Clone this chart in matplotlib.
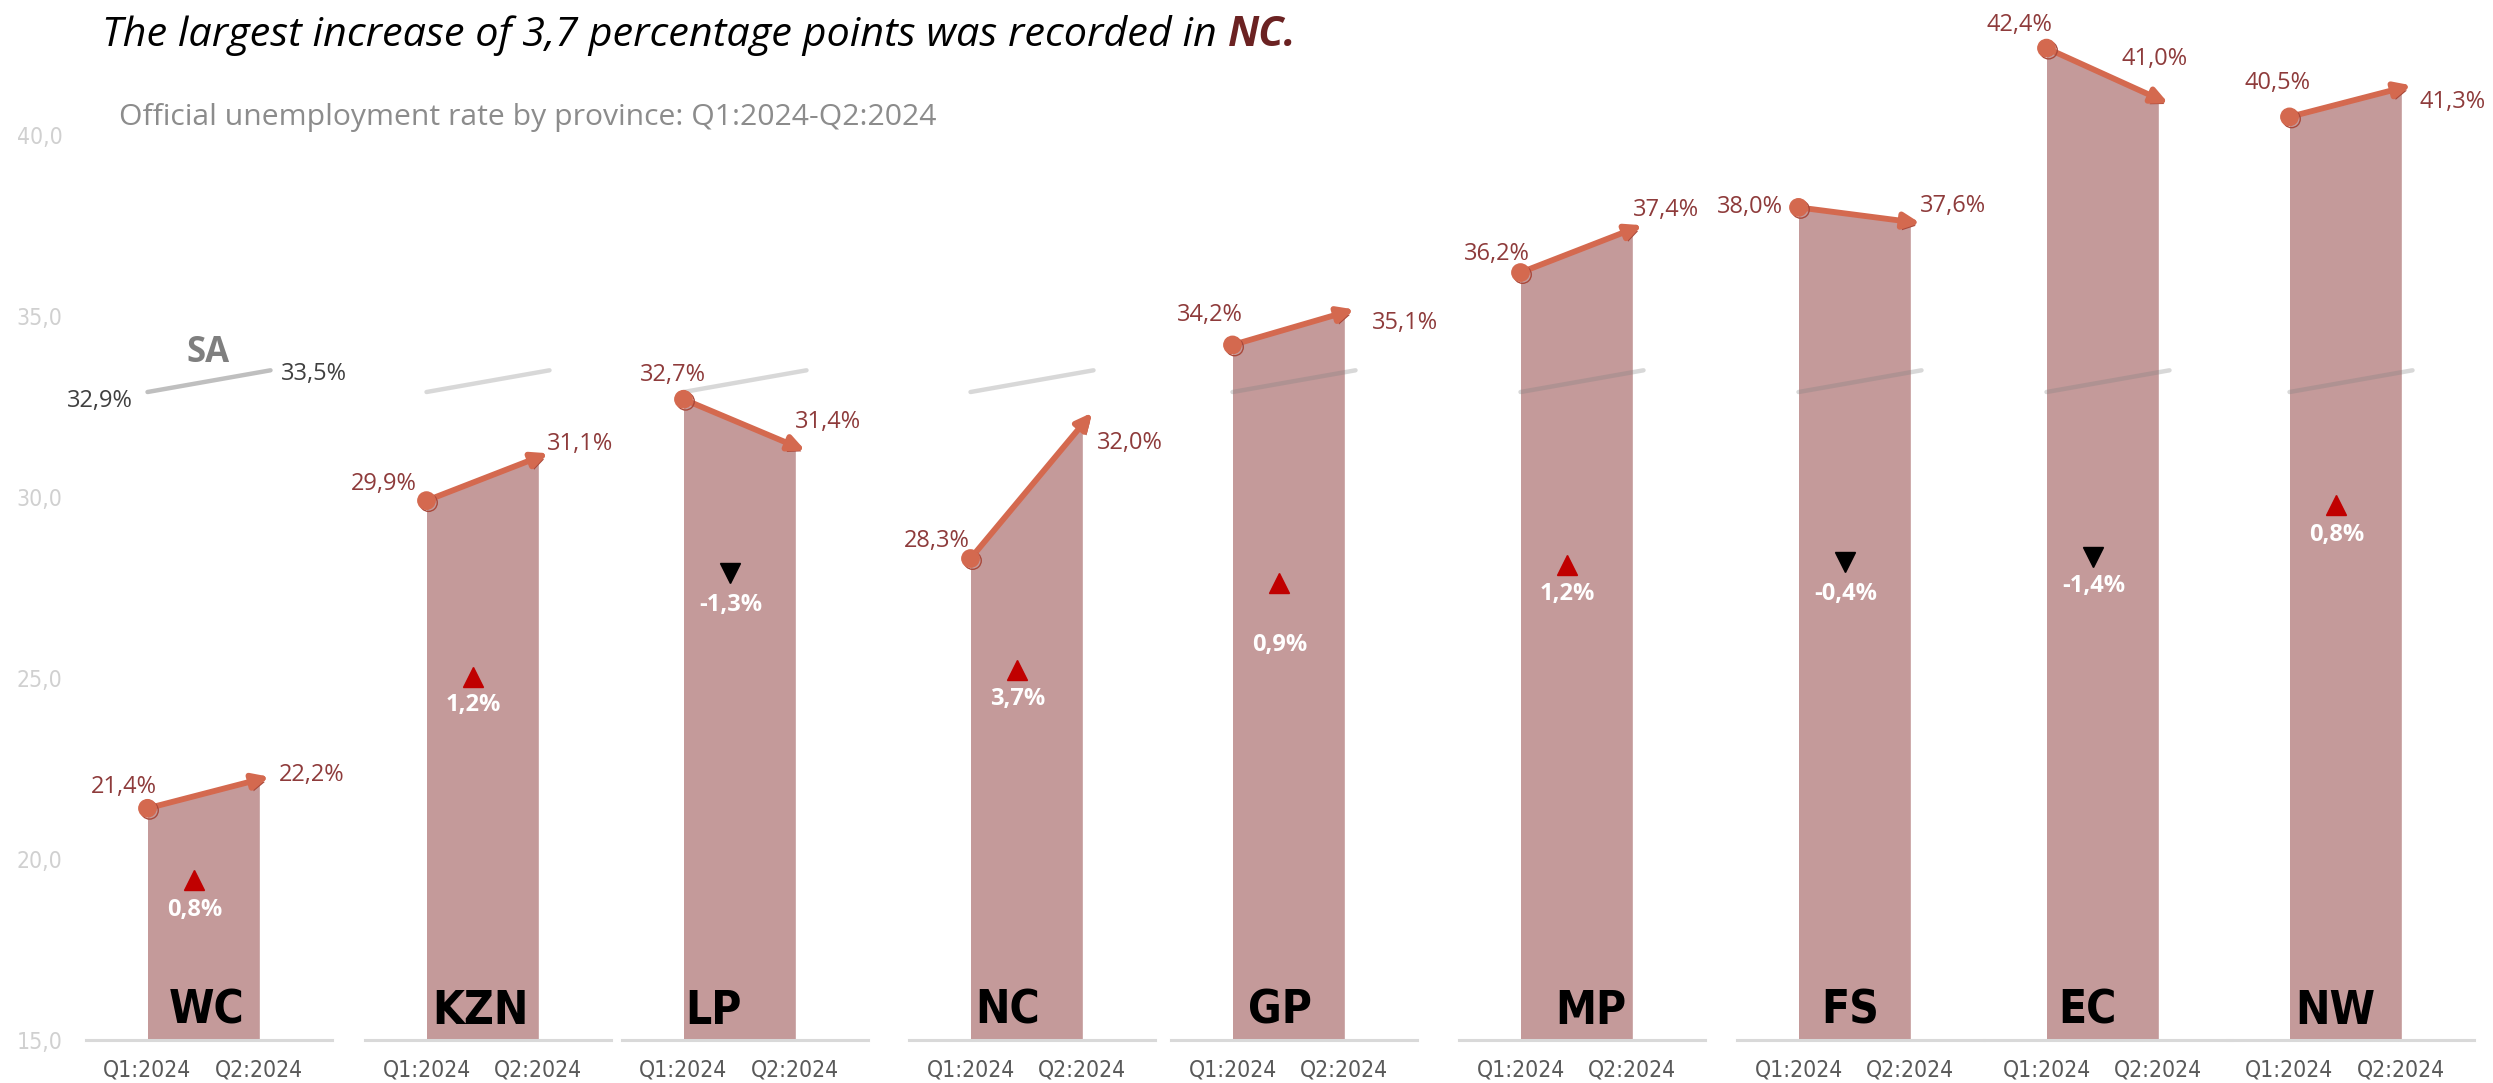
import matplotlib.pyplot as plt
import matplotlib.patheffects as pe

# Official unemployment rate by province, Q1:2024 vs Q2:2024
provinces = ['WC', 'KZN', 'LP', 'NC', 'GP', 'MP', 'FS', 'EC', 'NW']
q1_rate = [21.4, 29.9, 32.7, 28.3, 34.2, 36.2, 38.0, 42.4, 40.5]
q2_rate = [22.2, 31.1, 31.4, 32.0, 35.1, 37.4, 37.6, 41.0, 41.3]
sa_rate = [32.9, 33.5]
quarters = ['Q1:2024', 'Q2:2024']
y_ticks = [15, 20, 25, 30, 35, 40]

# layout (pixels / data units)
W, H = 2493, 1083
base_px = 1040          # where 15,0 sits
px_per_unit = 36.2
panel_left = [86, 365, 622, 909, 1171, 1459, 1737, 1985, 2228]
q1_lab_off = [(9, 21), (-10, 17), (22, 24), (-1, 18), (10, 30), (9, 19), (-16, 0), (6, 23), (21, 34)]
q2_lab_off = [(20, 4), (9, 13), (0, 24), (15, -18), (28, -11), (1, 19), (10, 16), (-37, 40), (18, -14)]
mark_y = [19.43, 25.04, 27.89, 25.22, 27.63, 28.11, 28.2, 28.33, 29.78]
chg_y = [18.59, 24.25, 27.02, 24.43, 25.92, 27.32, 27.32, 27.54, 28.95]
name_x = [0.53, 0.48, 0.27, 0.33, 0.42, 0.63, 0.46, 0.37, 0.41]

FILL = '#c49a9a'
ARROW = '#d4694f'
SHADOW = '#a9483a'
LABEL = '#8e3b3b'
plt.rcParams['font.family'] = ['Open Sans', 'DejaVu Sans']
narrow = dict(family='DejaVu Sans', fontstretch='condensed')


def pct(v):
    return f"{v:.1f}%".replace('.', ',')


fig = plt.figure(figsize=(W / 100, H / 100), dpi=100)
y_lo, y_hi = 15, 15 + base_px / px_per_unit

for i, prov in enumerate(provinces):
    ax = fig.add_axes([panel_left[i] / W, (H - base_px) / H, 246 / W, base_px / H])
    ax.set_xlim(-0.55, 1.65)
    ax.set_ylim(y_lo, y_hi)
    ax.patch.set_alpha(0)
    for s in ['top', 'right', 'left']:
        ax.spines[s].set_visible(False)
    ax.spines['bottom'].set_color('#d9d9d9')
    ax.spines['bottom'].set_linewidth(2.2)
    ax.set_xticks([0, 1])
    ax.set_xticklabels(quarters, fontsize=16.5, color='#595959', **narrow)
    ax.tick_params(axis='x', length=0, pad=13)
    if i == 0:
        ax.set_yticks(y_ticks)
        ax.set_yticklabels([f"{t:.1f}".replace('.', ',') for t in y_ticks],
                           fontsize=16.5, color='#d0d0d0', **narrow)
        ax.tick_params(axis='y', length=0, pad=17)
    else:
        ax.set_yticks([])

    v1, v2 = q1_rate[i], q2_rate[i]
    ax.fill_between([0, 1], [y_lo, y_lo], [v1, v2], color=FILL, lw=0, zorder=1)

    # South Africa reference line
    if i == 0:
        ax.plot([0, 1.1], sa_rate, color='#808080', alpha=0.5, lw=3.2,
                solid_capstyle='round', zorder=2)
        ax.annotate(pct(sa_rate[0]), (0, sa_rate[0]), xytext=(-15, -9),
                    textcoords='offset pixels', ha='right', va='center',
                    fontsize=17, color='#404040')
        ax.annotate(pct(sa_rate[1]), (1, sa_rate[1]), xytext=(22, -4),
                    textcoords='offset pixels', ha='left', va='center',
                    fontsize=17, color='#404040')
        ax.text(0.54, 33.98, 'SA', ha='center', va='center', fontsize=25,
                fontweight='bold', color='#7f7f7f')
    else:
        ax.plot([0, 1.1], sa_rate, color='#808080', alpha=0.3, lw=3.2,
                solid_capstyle='round', zorder=2)

    # arrow Q1 -> Q2
    ax.annotate('', xy=(1.09, v2 + 0.09 * (v2 - v1)), xytext=(0, v1),
                arrowprops=dict(arrowstyle='-|>,head_length=0.95,head_width=0.45',
                                lw=4.2, color=ARROW, shrinkA=0, shrinkB=0,
                                path_effects=[pe.SimplePatchShadow(offset=(1.5, -2.5),
                                                                   shadow_rgbFace=SHADOW,
                                                                   alpha=1),
                                              pe.Normal()]),
                zorder=3)
    ax.plot([0], [v1], 'o', ms=12.5, color=ARROW, zorder=4,
            path_effects=[pe.SimpleLineShadow(offset=(1.5, -1.5), shadow_color=SHADOW, alpha=1),
                          pe.Normal()])

    ax.annotate(pct(v1), (0, v1), xytext=q1_lab_off[i], textcoords='offset pixels',
                ha='right', va='center', fontsize=17, color=LABEL, zorder=5,
                annotation_clip=False)
    ax.annotate(pct(v2), (1, v2), xytext=q2_lab_off[i], textcoords='offset pixels',
                ha='left', va='center', fontsize=17, color=LABEL, zorder=5,
                annotation_clip=False)

    # change marker and value
    chg = round(v2 - v1, 1)
    if chg >= 0:
        ax.plot([0.42], [mark_y[i]], '^', ms=14, color='#c00000', zorder=5)
    else:
        ax.plot([0.42], [mark_y[i]], 'v', ms=14, color='black', zorder=5)
    ax.text(0.42, chg_y[i], pct(chg), ha='center', va='center', fontsize=17,
            fontweight='bold', color='white', zorder=5)

    ax.text(name_x[i], 15.8, prov, ha='center', va='center', fontsize=33,
            fontweight='bold', color='black', zorder=5, **narrow)

# headings
t1 = fig.text(102 / W, 1 - 36 / H, 'The largest increase of 3,7 percentage points was recorded in ',
              ha='left', va='center', fontsize=29.8, style='italic', color='black')
fig.canvas.draw()
bb = t1.get_window_extent()
fig.text(bb.x1 / W, 1 - 36 / H, 'NC.', ha='left', va='center', fontsize=29.8,
         style='italic', fontweight='bold', color='#6b2222')
fig.text(119 / W, 1 - 118 / H, 'Official unemployment rate by province: Q1:2024-Q2:2024',
         ha='left', va='center', fontsize=21.7, color='#8c8c8c')

fig.savefig('out.png', dpi=100, facecolor='white')
